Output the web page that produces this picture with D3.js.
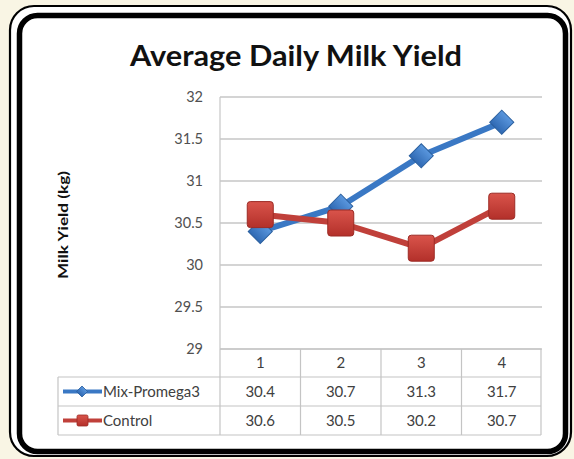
<!DOCTYPE html>
<html><head><meta charset="utf-8">
<script src="https://cdn.jsdelivr.net/npm/d3@7"></script>
<style>
html,body{margin:0;padding:0;background:#f9f5e4;}
svg{display:block;}
text{font-family:Lato,"Open Sans",sans-serif;}
</style></head>
<body>
<script>
const categories = ["1","2","3","4"];
const seriesNames = ["Mix-Promega3","Control"];
const mixValues = [30.4, 30.7, 31.3, 31.7];
const controlValues = [30.6, 30.5, 30.2, 30.7];
const yTicks = [29, 29.5, 30, 30.5, 31, 31.5, 32];
const yTickLabels = ["29","29.5","30","30.5","31","31.5","32"];
const title = "Average Daily Milk Yield";
const yTitle = "Milk Yield (kg)";

const W = 574, H = 459;
const svg = d3.select("body").append("svg").attr("width", W).attr("height", H);
const defs = svg.append("defs");
const gB = defs.append("linearGradient").attr("id","gb").attr("x1",0).attr("y1",0).attr("x2",0).attr("y2",1);
gB.append("stop").attr("offset","0").attr("stop-color","#5a97de");
gB.append("stop").attr("offset","1").attr("stop-color","#2f69b3");
const gR = defs.append("linearGradient").attr("id","gr").attr("x1",0).attr("y1",0).attr("x2",0).attr("y2",1);
gR.append("stop").attr("offset","0").attr("stop-color","#d9544b");
gR.append("stop").attr("offset","1").attr("stop-color","#b3302a");

// frame
svg.append("rect").attr("x",10).attr("y",6).attr("width",561).attr("height",450).attr("rx",24)
  .attr("fill","#ffffff").attr("stroke","#000").attr("stroke-width",2.2);
svg.append("rect").attr("x",19.5).attr("y",15.5).attr("width",546).attr("height",436).attr("rx",18)
  .attr("fill","#ffffff").attr("stroke","#000").attr("stroke-width",5.5);

const plotL = 220, plotR = 542, plotT = 97, plotB = 349;
const x = d3.scaleBand().domain(categories).range([plotL, plotR]);
const y = d3.scaleLinear().domain([29, 32]).range([plotB, plotT]);

// title
svg.append("text").attr("x", 296).attr("y", 66).attr("text-anchor","middle")
  .attr("font-size", 29).attr("font-weight","bold").attr("fill","#111")
  .attr("textLength", 332).attr("lengthAdjust","spacingAndGlyphs").text(title);

// gridlines
svg.append("g").selectAll("line").data(yTicks).join("line")
  .attr("x1", plotL).attr("x2", plotR).attr("y1", d=>y(d)).attr("y2", d=>y(d))
  .attr("stroke","#c6c6c6").attr("stroke-width",1.5);
svg.append("line").attr("x1",plotL).attr("x2",plotL).attr("y1",plotT).attr("y2",plotB)
  .attr("stroke","#c6c6c6").attr("stroke-width",1.2);

// y tick labels
svg.append("g").selectAll("text").data(yTicks).join("text")
  .attr("x", 203).attr("y", d=>y(d)).attr("dy","0.35em").attr("text-anchor","end")
  .attr("font-size",14.5).attr("fill","#505050").text((d,i)=>yTickLabels[i]);

// y title
svg.append("text").attr("transform","translate(68,225) rotate(-90)").attr("text-anchor","middle")
  .attr("font-size",14).attr("font-weight","bold").attr("fill","#111")
  .attr("textLength",108).attr("lengthAdjust","spacingAndGlyphs").text(yTitle);

// table
const tblL = 58, rowTops = [349, 377, 406, 435];
const tg = svg.append("g").attr("stroke","#c4c4c4").attr("stroke-width",1.2);
tg.append("line").attr("x1",plotL).attr("x2",plotR-1).attr("y1",rowTops[0]).attr("y2",rowTops[0]);
for (let i=1;i<rowTops.length;i++) tg.append("line").attr("x1",tblL).attr("x2",plotR-1).attr("y1",rowTops[i]).attr("y2",rowTops[i]);
tg.append("line").attr("x1",tblL).attr("x2",tblL).attr("y1",rowTops[1]).attr("y2",rowTops[3]);
const colEdges = categories.map(c=>x(c)).concat([plotR-1]);
tg.selectAll("line.col").data(colEdges).join("line").attr("class","col")
  .attr("x1",d=>d).attr("x2",d=>d).attr("y1",rowTops[0]).attr("y2",rowTops[3]);

const fs = 15;
const cx = c => x(c) + x.bandwidth()/2;
svg.append("g").selectAll("text").data(categories).join("text")
  .attr("x", d=>cx(d)).attr("y",(rowTops[0]+rowTops[1])/2).attr("dy","0.35em").attr("text-anchor","middle")
  .attr("font-size",fs).attr("fill","#404040").text(d=>d);
[mixValues, controlValues].forEach((vals, r) => {
  svg.append("g").selectAll("text").data(vals).join("text")
    .attr("x",(d,i)=>cx(categories[i])).attr("y",(rowTops[r+1]+rowTops[r+2])/2).attr("dy","0.35em")
    .attr("text-anchor","middle").attr("font-size",fs).attr("fill","#404040").text(d=>d);
});

// legend keys in table
const legY = [ (rowTops[1]+rowTops[2])/2, (rowTops[2]+rowTops[3])/2 ];
svg.append("line").attr("x1",63).attr("x2",102).attr("y1",legY[0]).attr("y2",legY[0]).attr("stroke","#3a78c4").attr("stroke-width",4);
svg.append("path").attr("d", d3.symbol(d3.symbolSquare, 60)()).attr("transform",`translate(82,${legY[0]}) rotate(45)`)
  .attr("fill","url(#gb)").attr("stroke","#2a5f9e").attr("stroke-width",0.8);
svg.append("line").attr("x1",63).attr("x2",102).attr("y1",legY[1]).attr("y2",legY[1]).attr("stroke","#c0403a").attr("stroke-width",4);
svg.append("rect").attr("x",77).attr("y",legY[1]-5.5).attr("width",11).attr("height",11).attr("rx",1.5)
  .attr("fill","url(#gr)").attr("stroke","#9c2b25").attr("stroke-width",0.8);
seriesNames.forEach((n,i)=>{
  svg.append("text").attr("x",103).attr("y",legY[i]).attr("dy","0.35em").attr("font-size",fs).attr("fill","#404040").text(n);
});

// lines
const line = d3.line().x((d,i)=>cx(categories[i])).y(d=>y(d));
svg.append("path").datum(mixValues).attr("d",line).attr("fill","none").attr("stroke","#3a78c4").attr("stroke-width",6).attr("stroke-linejoin","round");
svg.append("path").datum(controlValues).attr("d",line).attr("fill","none").attr("stroke","#c0403a").attr("stroke-width",6).attr("stroke-linejoin","round");

// markers
svg.append("g").selectAll("path").data(mixValues).join("path")
  .attr("d", d3.symbol(d3.symbolSquare, 290)())
  .attr("transform",(d,i)=>`translate(${cx(categories[i])},${y(d)}) rotate(45)`)
  .attr("fill","url(#gb)").attr("stroke","#2a5f9e").attr("stroke-width",1);
svg.append("g").selectAll("rect").data(controlValues).join("rect")
  .attr("x",(d,i)=>cx(categories[i])-13).attr("y",d=>y(d)-13).attr("width",26).attr("height",26).attr("rx",3)
  .attr("fill","url(#gr)").attr("stroke","#9c2b25").attr("stroke-width",1);
</script>
</body></html>
